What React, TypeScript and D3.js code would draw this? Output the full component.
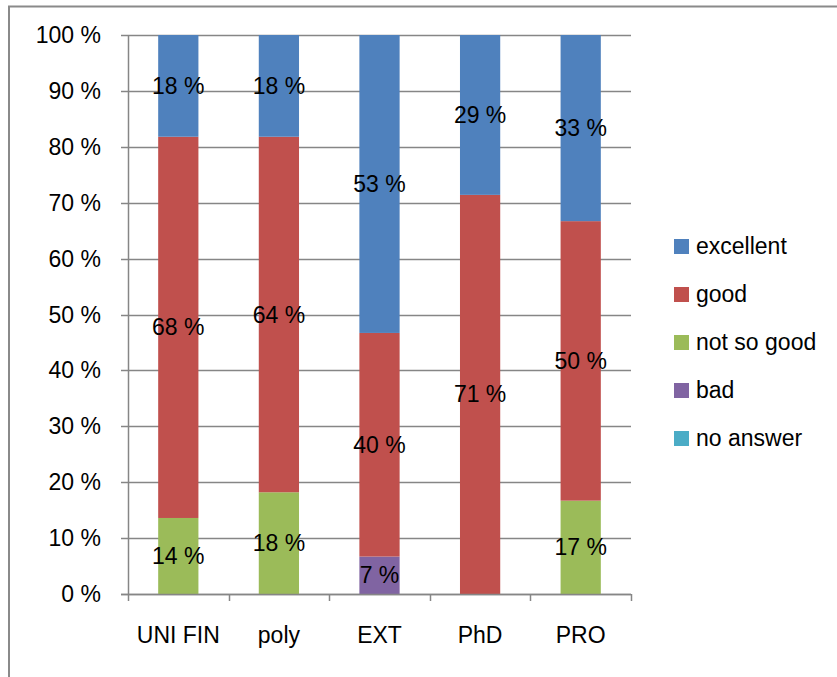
import { useEffect, useRef } from "react";
import * as d3 from "d3";

const CATEGORIES = ["UNI FIN", "poly", "EXT", "PhD", "PRO"];
const SERIES = ["excellent", "good", "not so good", "bad", "no answer"];

// percent shares per category
const EXCELLENT = [18.2, 18.2, 53.3, 28.6, 33.3];
const GOOD = [68.2, 63.6, 40.0, 71.4, 50.0];
const NOT_SO_GOOD = [13.6, 18.2, 0, 0, 16.7];
const BAD = [0, 0, 6.7, 0, 0];
const NO_ANSWER = [0, 0, 0, 0, 0];

const Y_TICKS = [0, 10, 20, 30, 40, 50, 60, 70, 80, 90, 100];

const COLORS: Record<string, string> = {
  excellent: "#4F81BD",
  good: "#C0504D",
  "not so good": "#9BBB59",
  bad: "#8064A2",
  "no answer": "#4BACC6",
};

const FONT = "'Liberation Sans', Arial, sans-serif";
const FS = 23;

export default function App() {
  const svgRef = useRef<SVGSVGElement>(null);

  useEffect(() => {
    if (!svgRef.current) return;
    const width = 837;
    const height = 677;
    const svg = d3.select(svgRef.current);
    svg.selectAll("*").remove();
    svg.attr("width", width).attr("height", height);

    svg
      .append("rect")
      .attr("width", width)
      .attr("height", height)
      .attr("fill", "#fff");

    // outer chart frame
    svg
      .append("rect")
      .attr("x", 9)
      .attr("y", 6.5)
      .attr("width", width + 20)
      .attr("height", height + 20)
      .attr("fill", "none")
      .attr("stroke", "#8a8a8a")
      .attr("stroke-width", 2);

    const plot = { left: 128, right: 631, top: 35, bottom: 594 };

    const x = d3
      .scaleBand<string>()
      .domain(CATEGORIES)
      .range([plot.left, plot.right])
      .paddingInner(0.6)
      .paddingOuter(0.3);
    const y = d3.scaleLinear().domain([0, 100]).range([plot.bottom, plot.top]);

    const g = svg.append("g");

    // gridlines
    g.selectAll("line.grid")
      .data(Y_TICKS)
      .join("line")
      .attr("class", "grid")
      .attr("x1", plot.left - 7)
      .attr("x2", plot.right)
      .attr("y1", (d) => Math.round(y(d)) + 0.5)
      .attr("y2", (d) => Math.round(y(d)) + 0.5)
      .attr("stroke", "#868686")
      .attr("stroke-width", 1.5);

    // y labels
    g.selectAll("text.ylab")
      .data(Y_TICKS)
      .join("text")
      .attr("class", "ylab")
      .attr("x", 101)
      .attr("y", (d) => y(d))
      .attr("dy", "0.35em")
      .attr("text-anchor", "end")
      .attr("font-family", FONT)
      .attr("font-size", FS)
      .attr("fill", "#000")
      .text((d) => `${d} %`);

    // stacked bars
    const rows = CATEGORIES.map((c, i) => ({
      cat: c,
      "not so good": NOT_SO_GOOD[i],
      bad: BAD[i],
      "no answer": NO_ANSWER[i],
      good: GOOD[i],
      excellent: EXCELLENT[i],
    }));
    const stackOrder = ["no answer", "bad", "not so good", "good", "excellent"];
    const stacked = d3.stack<any>().keys(stackOrder)(rows);

    const barG = g.append("g");
    stacked.forEach((layer) => {
      const key = layer.key;
      layer.forEach((seg, i) => {
        const v = seg[1] - seg[0];
        if (v <= 0) return;
        const cat = CATEGORIES[i];
        barG
          .append("rect")
          .attr("x", x(cat)!)
          .attr("width", x.bandwidth())
          .attr("y", y(seg[1]))
          .attr("height", y(seg[0]) - y(seg[1]))
          .attr("fill", COLORS[key]);
      });
    });

    // y axis line and x axis line
    g.append("line")
      .attr("x1", plot.left + 0.5)
      .attr("x2", plot.left + 0.5)
      .attr("y1", plot.top)
      .attr("y2", plot.bottom)
      .attr("stroke", "#868686")
      .attr("stroke-width", 1.5);
    g.append("line")
      .attr("x1", plot.left - 7)
      .attr("x2", plot.right)
      .attr("y1", plot.bottom + 0.5)
      .attr("y2", plot.bottom + 0.5)
      .attr("stroke", "#868686")
      .attr("stroke-width", 1.5);

    // x tick marks at category boundaries
    const step = x.step();
    const bounds = d3.range(CATEGORIES.length + 1).map((i) => plot.left + i * step);
    g.selectAll("line.xtick")
      .data(bounds)
      .join("line")
      .attr("class", "xtick")
      .attr("x1", (d) => Math.round(d) + 0.5)
      .attr("x2", (d) => Math.round(d) + 0.5)
      .attr("y1", plot.bottom)
      .attr("y2", plot.bottom + 7)
      .attr("stroke", "#868686")
      .attr("stroke-width", 1.5);

    // x labels
    g.selectAll("text.xlab")
      .data(CATEGORIES)
      .join("text")
      .attr("class", "xlab")
      .attr("x", (d) => x(d)! + x.bandwidth() / 2)
      .attr("y", 643)
      .attr("text-anchor", "middle")
      .attr("font-family", FONT)
      .attr("font-size", FS)
      .attr("fill", "#000")
      .text((d) => d);

    // data labels
    const labG = g.append("g");
    stacked.forEach((layer) => {
      layer.forEach((seg, i) => {
        const v = seg[1] - seg[0];
        if (v <= 0) return;
        const cat = CATEGORIES[i];
        labG
          .append("text")
          .attr("x", x(cat)! + x.bandwidth() / 2)
          .attr("y", y((seg[0] + seg[1]) / 2))
          .attr("dy", "0.35em")
          .attr("text-anchor", "middle")
          .attr("font-family", FONT)
          .attr("font-size", FS)
          .attr("fill", "#000")
          .text(`${Math.round(v)} %`);
      });
    });

    // legend
    const legend = svg.append("g").attr("transform", "translate(674, 246)");
    SERIES.forEach((s, i) => {
      const row = legend.append("g").attr("transform", `translate(0, ${i * 48})`);
      row
        .append("rect")
        .attr("x", 0)
        .attr("y", -7)
        .attr("width", 15)
        .attr("height", 15)
        .attr("fill", COLORS[s]);
      row
        .append("text")
        .attr("x", 22)
        .attr("y", 0)
        .attr("dy", "0.35em")
        .attr("font-family", FONT)
        .attr("font-size", FS)
        .attr("fill", "#000")
        .text(s);
    });
  }, []);

  return (
    <svg
      ref={svgRef}
      style={{ position: "absolute", left: 0, top: 0, display: "block" }}
    />
  );
}
